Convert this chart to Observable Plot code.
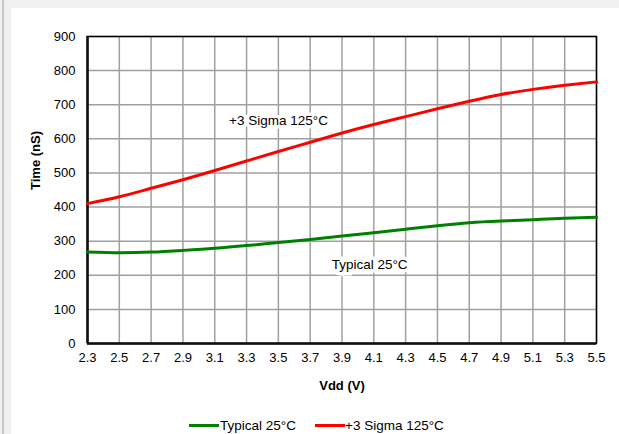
<!DOCTYPE html>
<html><head><meta charset="utf-8">
<script src="https://cdn.jsdelivr.net/npm/d3@7"></script>
<script src="https://cdn.jsdelivr.net/npm/@observablehq/plot@0.6"></script>
<style>
html,body{margin:0;padding:0;background:#f0f0f0;width:619px;height:434px;overflow:hidden;font-family:"Liberation Sans",Arial,sans-serif;}
#edge{position:absolute;left:2px;top:0;width:2px;height:434px;background:#c8c8c8;}
#panel{position:absolute;left:11px;top:8px;width:608px;height:426px;background:#fff;}
#chart{position:absolute;left:0;top:0;}
#legend{position:absolute;left:0;top:418px;width:619px;height:16px;font-size:13.5px;line-height:15px;color:#000;}
.sw{position:absolute;top:6px;width:30px;height:3px;}
.lt{position:absolute;top:0;}
</style></head>
<body>
<div id="edge"></div>
<div id="panel"></div>
<div id="chart"></div>
<div id="legend">
  <div class="sw" style="left:189px;background:#008000"></div><div class="lt" style="left:220px">Typical 25°C</div>
  <div class="sw" style="left:315px;background:#ff0000"></div><div class="lt" style="left:345px">+3 Sigma 125°C</div>
</div>
<script>
const vdd = [2.3, 2.5, 2.7, 2.9, 3.1, 3.3, 3.5, 3.7, 3.9, 4.1, 4.3, 4.5, 4.7, 4.9, 5.1, 5.3, 5.5];
const typical25 = [268, 266, 268, 273, 279, 287, 296, 305, 315, 325, 335, 345, 354, 359, 363, 367, 370];
const sigma125 = [410, 430, 455, 480, 507, 535, 563, 590, 617, 642, 665, 688, 710, 730, 745, 757, 767];
const yTicks = [0, 100, 200, 300, 400, 500, 600, 700, 800, 900];
const seriesNames = ["Typical 25°C", "+3 Sigma 125°C"];
const seriesColors = ["#008000", "#ff0000"];
const annotations = [
  {x: 3.19, y: 654, text: "+3 Sigma 125°C"},
  {x: 3.835, y: 232, text: "Typical 25°C"}
];

const rows = [];
vdd.forEach((v, i) => {
  rows.push({v, t: typical25[i], s: seriesNames[0]});
  rows.push({v, t: sigma125[i], s: seriesNames[1]});
});

const chart = Plot.plot({
  width: 619, height: 400,
  marginLeft: 87, marginRight: 23, marginTop: 36, marginBottom: 57,
  style: {background: "transparent", fontFamily: "Liberation Sans, Arial, sans-serif", fontSize: "13px", color: "#000"},
  x: {domain: [2.3, 5.5], ticks: vdd, tickFormat: d => d.toFixed(1), tickSize: 0, tickPadding: 9, label: null},
  y: {domain: [0, 900], ticks: yTicks, tickSize: 0, tickPadding: 12, label: null},
  color: {domain: seriesNames, range: seriesColors},
  marks: [
    Plot.gridX(vdd, {stroke: "#a0a0a0", strokeOpacity: 1, strokeWidth: 1.5}),
    Plot.gridY(yTicks, {stroke: "#a0a0a0", strokeOpacity: 1, strokeWidth: 1.5}),
    Plot.frame({stroke: "#000", strokeWidth: 1.5}),
    Plot.ruleX([2.3], {stroke: "#111", strokeWidth: 2.5}),
    Plot.ruleY([0], {stroke: "#111", strokeWidth: 2.5}),
    Plot.line(rows, {x: "v", y: "t", z: "s", stroke: "s", strokeWidth: 3, curve: "natural"}),
    Plot.text(annotations, {x: "x", y: "y", text: "text", textAnchor: "start", fontSize: 13.5, fill: "#000", stroke: "white", strokeWidth: 7, strokeLinejoin: "miter"}),
    Plot.text(["Vdd (V)"], {frameAnchor: "bottom", dy: 46, fontWeight: "bold", fontSize: 13, fill: "#000"}),
    Plot.text(["Time (nS)"], {frameAnchor: "left", dx: -52, rotate: -90, fontWeight: "bold", fontSize: 13, fill: "#000"})
  ]
});
document.getElementById("chart").appendChild(chart);
</script>
</body></html>
